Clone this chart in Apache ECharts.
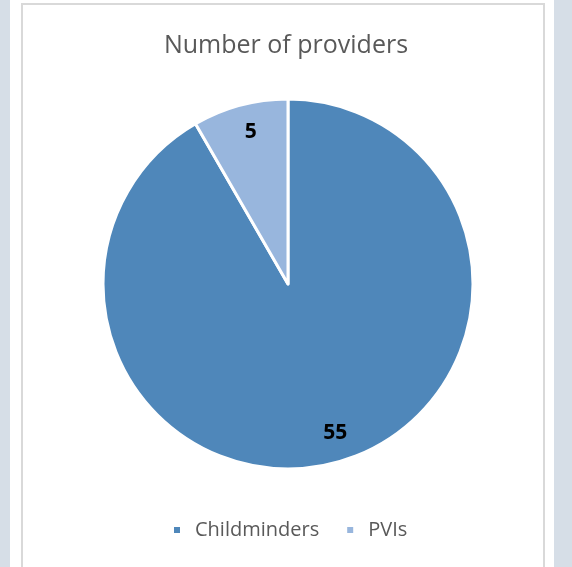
<!DOCTYPE html>
<html><head><meta charset="utf-8">
<script src="https://cdn.jsdelivr.net/npm/echarts@6/dist/echarts.min.js"></script>
<style>
html,body{margin:0;padding:0;width:572px;height:567px;overflow:hidden;background:#d6dee7;}
#panel{position:absolute;left:10px;top:0;width:544px;height:567px;background:#fff;}
#frame{position:absolute;left:21px;top:3px;width:524px;height:580px;border:2px solid #d9d9d9;box-sizing:border-box;}
#chart{position:absolute;left:0;top:0;width:572px;height:567px;}
</style></head>
<body>
<div id="panel"></div><div id="frame"></div>
<div id="chart"></div>
<script>
const categories = ['Childminders', 'PVIs'];
const values = [55, 5];
const colors = ['#4f87ba', '#98b6dd'];
const titleText = 'Number of providers';

const labelOffsets = [[6, -5], [4, 2]];
const data = categories.map((c, i) => ({ name: c, value: values[i], itemStyle: { color: colors[i] } }));
const chart = echarts.init(document.getElementById('chart'));
const font = '"Open Sans", sans-serif';
chart.setOption({
  animation: false,
  title: { text: titleText, left: 'center', top: 28, textStyle: { fontFamily: font, fontSize: 25, fontWeight: 'normal', color: '#595959' } },
  legend: { bottom: 22, left: 167, itemWidth: 8, itemHeight: 8, itemGap: 26, icon: 'rect',
    textStyle: { fontFamily: font, fontSize: 20, color: '#595959', padding: [0, 0, 0, 9] }, data: categories },
  series: [
    { type: 'pie', center: [288, 284], radius: [0, 185], startAngle: 90, clockwise: true,
      itemStyle: { borderColor: '#fff', borderWidth: 3 }, label: { show: false }, labelLine: { show: false },
      data: data },
    { type: 'pie', center: [288, 284], radius: [128, 185], startAngle: 90, clockwise: true, silent: true,
      itemStyle: { color: 'rgba(0,0,0,0)', borderWidth: 0 },
      label: { show: true, position: 'inside', formatter: '{c}', fontFamily: font, fontSize: 21, fontWeight: 'bold', color: '#000' },
      labelLine: { show: false },
      data: categories.map((c, i) => ({ name: c, value: values[i], itemStyle: { color: 'rgba(0,0,0,0)' }, label: { offset: labelOffsets[i] } })) }
  ]
});
</script>
</body></html>
